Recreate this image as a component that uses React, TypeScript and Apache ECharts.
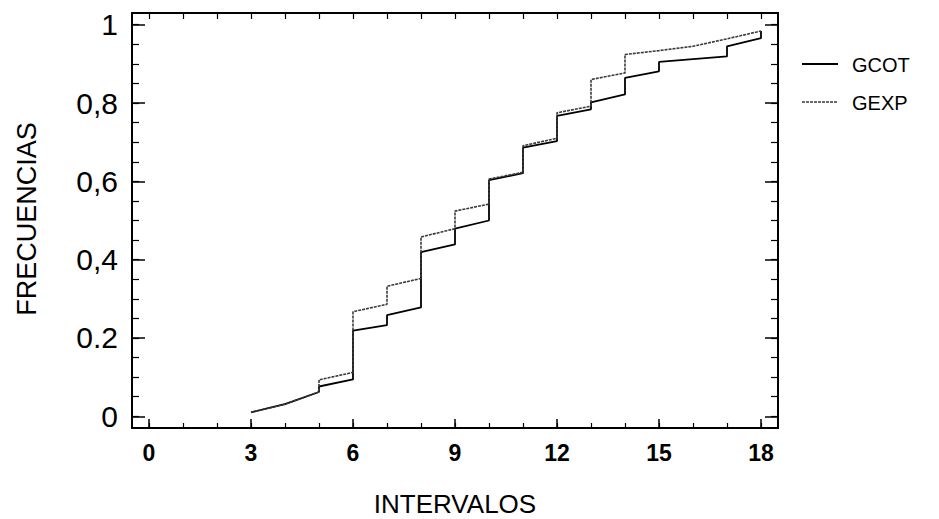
import React, { useEffect, useRef } from "react";
import * as echarts from "echarts";

const gcotX = [3, 4, 5, 5, 6, 6, 7, 7, 8, 8, 9, 9, 10, 10, 11, 11, 12, 12, 13, 13, 14, 14, 15, 15, 17, 17, 18, 18];
const gcotY = [0.010, 0.031, 0.062, 0.076, 0.094, 0.219, 0.233, 0.258, 0.278, 0.419, 0.439, 0.479, 0.500, 0.603, 0.621, 0.686, 0.703, 0.767, 0.784, 0.802, 0.822, 0.864, 0.881, 0.905, 0.919, 0.945, 0.966, 0.984];

const gexpX = [3, 4, 5, 5, 6, 6, 7, 7, 8, 8, 9, 9, 10, 10, 11, 11, 12, 12, 13, 13, 14, 14, 15, 16, 17, 18];
const gexpY = [0.010, 0.031, 0.062, 0.093, 0.112, 0.267, 0.286, 0.332, 0.352, 0.458, 0.479, 0.524, 0.542, 0.606, 0.623, 0.691, 0.710, 0.775, 0.792, 0.860, 0.877, 0.924, 0.934, 0.945, 0.964, 0.984];

const xMajorTicks = [0, 3, 6, 9, 12, 15, 18];
const xMinorTicks = [0, 1, 2, 3, 4, 5, 6, 7, 8, 9, 10, 11, 12, 13, 14, 15, 16, 17, 18];
const yMajorTicks = [0, 0.2, 0.4, 0.6, 0.8, 1];
const yTickLabels = ["0", "0.2", "0,4", "0,6", "0,8", "1"];
const yMinorTicks = [0, 0.05, 0.1, 0.15, 0.2, 0.25, 0.3, 0.35, 0.4, 0.45, 0.5, 0.55, 0.6, 0.65, 0.7, 0.75, 0.8, 0.85, 0.9, 0.95, 1];

const seriesNames = ["GCOT", "GEXP"];
const xTitle = "INTERVALOS";
const yTitle = "FRECUENCIAS";

const FONT = "'Liberation Sans', Arial, sans-serif";
const GCOT_COLOR = "#000";
const GEXP_COLOR = "#3a3a3a";
const GEXP_DASH = [3, 1];

export default function App() {
  const ref = useRef<HTMLDivElement>(null);

  useEffect(() => {
    if (!ref.current) return;
    const chart = echarts.init(ref.current, undefined, { renderer: "svg" });
    const xRange = { min: -0.5, max: 18.5 };
    const yRange = { min: -0.03, max: 1.03 };
    const line = { show: true, lineStyle: { color: "#000", width: 2 } };
    const noLabel = { show: false };
    const labelFor = (v: number) => {
      const i = yMajorTicks.findIndex((t) => Math.abs(t - v) < 1e-9);
      return i >= 0 ? yTickLabels[i] : "";
    };

    chart.setOption({
      animation: false,
      backgroundColor: "#fff",
      grid: { left: 132, right: 161, top: 13, bottom: 91, containLabel: false },
      xAxis: [
        {
          type: "value", position: "bottom", ...xRange,
          axisLine: { ...line, onZero: false },
          axisTick: { show: true, inside: true, length: 9, customValues: xMajorTicks, lineStyle: { color: "#000", width: 1.5 } },
          axisLabel: { show: true, customValues: xMajorTicks, fontSize: 23, fontWeight: "bold", color: "#000", fontFamily: FONT, margin: 13 },
          splitLine: { show: false },
        },
        {
          type: "value", position: "bottom", ...xRange,
          axisLine: { show: false, onZero: false },
          axisTick: { show: true, inside: true, length: 5, customValues: xMinorTicks, lineStyle: { color: "#000", width: 1.2 } },
          axisLabel: noLabel, splitLine: { show: false },
        },
        {
          type: "value", position: "top", ...xRange,
          axisLine: { ...line, onZero: false },
          axisTick: { show: true, inside: true, length: 6, customValues: xMinorTicks, lineStyle: { color: "#000", width: 1.2 } },
          axisLabel: noLabel, splitLine: { show: false },
        },
      ],
      yAxis: [
        {
          type: "value", position: "left", ...yRange,
          axisLine: { ...line, onZero: false },
          axisTick: { show: true, inside: true, length: 13, customValues: yMajorTicks, lineStyle: { color: "#000", width: 1.5 } },
          axisLabel: { show: true, customValues: yMajorTicks, formatter: labelFor, fontSize: 30, color: "#000", fontFamily: FONT, margin: 14 },
          splitLine: { show: false },
        },
        {
          type: "value", position: "left", ...yRange,
          axisLine: { show: false, onZero: false },
          axisTick: { show: true, inside: true, length: 7, customValues: yMinorTicks, lineStyle: { color: "#000", width: 1.2 } },
          axisLabel: noLabel, splitLine: { show: false },
        },
        {
          type: "value", position: "right", ...yRange,
          axisLine: { ...line, onZero: false },
          axisTick: { show: true, inside: true, length: 13, customValues: yMajorTicks, lineStyle: { color: "#000", width: 1.5 } },
          axisLabel: noLabel, splitLine: { show: false },
        },
        {
          type: "value", position: "right", ...yRange,
          axisLine: { show: false, onZero: false },
          axisTick: { show: true, inside: true, length: 7, customValues: yMinorTicks, lineStyle: { color: "#000", width: 1.2 } },
          axisLabel: noLabel, splitLine: { show: false },
        },
      ],
      series: [
        {
          name: seriesNames[0], type: "line", xAxisIndex: 0, yAxisIndex: 0,
          symbol: "none", showSymbol: false,
          data: gcotX.map((x, i) => [x, gcotY[i]]),
          lineStyle: { color: GCOT_COLOR, width: 1.8, type: "solid" },
          itemStyle: { color: GCOT_COLOR },
        },
        {
          name: seriesNames[1], type: "line", xAxisIndex: 0, yAxisIndex: 0,
          symbol: "none", showSymbol: false,
          data: gexpX.map((x, i) => [x, gexpY[i]]),
          lineStyle: { color: GEXP_COLOR, width: 1.6, type: GEXP_DASH },
          itemStyle: { color: GEXP_COLOR },
        },
      ],
      graphic: [
        {
          type: "text", x: 455, y: 504,
          style: { text: xTitle, fontSize: 26, fill: "#000", fontFamily: FONT, align: "center", verticalAlign: "middle" },
        },
        {
          type: "text", x: 27, y: 219, rotation: Math.PI / 2,
          style: { text: yTitle, fontSize: 27, fill: "#000", fontFamily: FONT, align: "center", verticalAlign: "middle" },
        },
        // legend
        {
          type: "line", shape: { x1: 802, y1: 64, x2: 838, y2: 64 },
          style: { stroke: GCOT_COLOR, lineWidth: 1.8 },
        },
        {
          type: "text", x: 852, y: 65,
          style: { text: seriesNames[0], fontSize: 20, fill: "#000", fontFamily: FONT, align: "left", verticalAlign: "middle" },
        },
        {
          type: "line", shape: { x1: 802, y1: 102, x2: 838, y2: 102 },
          style: { stroke: GEXP_COLOR, lineWidth: 1.6, lineDash: GEXP_DASH },
        },
        {
          type: "text", x: 852, y: 103,
          style: { text: seriesNames[1], fontSize: 20, fill: "#000", fontFamily: FONT, align: "left", verticalAlign: "middle" },
        },
      ],
    });
    return () => chart.dispose();
  }, []);

  return <div ref={ref} style={{ position: "absolute", left: 0, top: 0, width: 939, height: 519 }} />;
}
